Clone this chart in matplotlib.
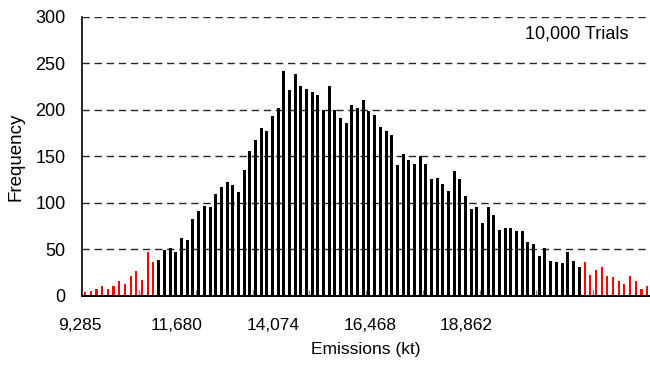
import numpy as np
import matplotlib
matplotlib.use("Agg")
from matplotlib import pyplot as plt
from matplotlib.transforms import ScaledTranslation

plt.rcParams['font.family'] = ['Liberation Sans', 'DejaVu Sans']

# histogram of 10,000 trials, 100 bins starting at 9,285 kt
start = 9285
bin_w = (18862 - 9285) / 68.0

# lower tail (red), body (black), upper tail (red)
low_tail = [4, 5, 7, 11, 8, 11, 16, 13, 22, 27, 17, 47, 37]
body = [39, 49, 52, 47, 62, 60, 83, 91, 97, 96,
        110, 117, 123, 119, 112, 136, 156, 168, 181, 177,
        193, 202, 242, 222, 239, 226, 223, 219, 216, 200,
        226, 200, 191, 186, 205, 202, 211, 199, 195, 182,
        177, 173, 141, 153, 146, 142, 150, 142, 126, 127,
        120, 113, 134, 126, 107, 93, 96, 79, 96, 87,
        71, 73, 73, 70, 70, 58, 56, 43, 52, 38,
        37, 36, 47, 38, 31]
high_tail = [37, 23, 28, 31, 22, 20, 16, 13, 22, 16, 7, 11]

tick_labels = ["9,285", "11,680", "14,074", "16,468", "18,862"]
tick_bins = [0, 17, 34, 51, 68]

n_bins = len(low_tail) + len(body) + len(high_tail)
centers = start + (np.arange(n_bins) + 0.5) * bin_w
i1 = len(low_tail)
i2 = i1 + len(body)

fig = plt.figure(figsize=(6.5, 3.67), dpi=100)
ax = fig.add_axes([0.1266, 0.1935, 0.8734, 0.7602])

ax.bar(centers[:i1], low_tail, width=bin_w * 0.36, color="#ff0000", zorder=2)
ax.bar(centers[i1:i2], body, width=bin_w * 0.53, color="black", zorder=2)
ax.bar(centers[i2:], high_tail, width=bin_w * 0.36, color="#ff0000", zorder=2)

ax.set_xlim(start, start + n_bins * bin_w)
ax.set_ylim(0, 300)
ax.set_yticks(range(0, 301, 50))

ax.set_xticks([start + b * bin_w for b in tick_bins])
ax.set_xticklabels(tick_labels)
ax.set_xticks([start + b * bin_w for b in range(10, n_bins, 10)], minor=True)

ax.tick_params(axis="x", which="major", length=0, pad=16, labelsize=12.5)
ax.tick_params(axis="x", which="minor", direction="in", length=4.5, width=1.0, color="#808080")
ax.tick_params(axis="y", length=0, pad=12, labelsize=13)

for lab in ax.get_xticklabels():
    lab.set_transform(lab.get_transform() + ScaledTranslation(-0.02, 0, fig.dpi_scale_trans))

ax.yaxis.grid(True, color="#262626", linewidth=1.0, dashes=(5.3, 3.4))
ax.set_axisbelow(True)

for side in ["top", "right"]:
    ax.spines[side].set_visible(False)
ax.spines["left"].set_linewidth(1.2)
ax.spines["bottom"].set_linewidth(1.4)

ax.set_xlabel("Emissions (kt)", fontsize=12.5, va="center")
ax.set_ylabel("Frequency", fontsize=13.5, va="center")
ax.xaxis.set_label_coords(0.5, -0.1935)
ax.yaxis.set_label_coords(-0.1166, 0.5)
ax.text(0.963, 0.939, "10,000 Trials", transform=ax.transAxes,
        ha="right", va="center", fontsize=13)

fig.savefig("out.png", dpi=100)
